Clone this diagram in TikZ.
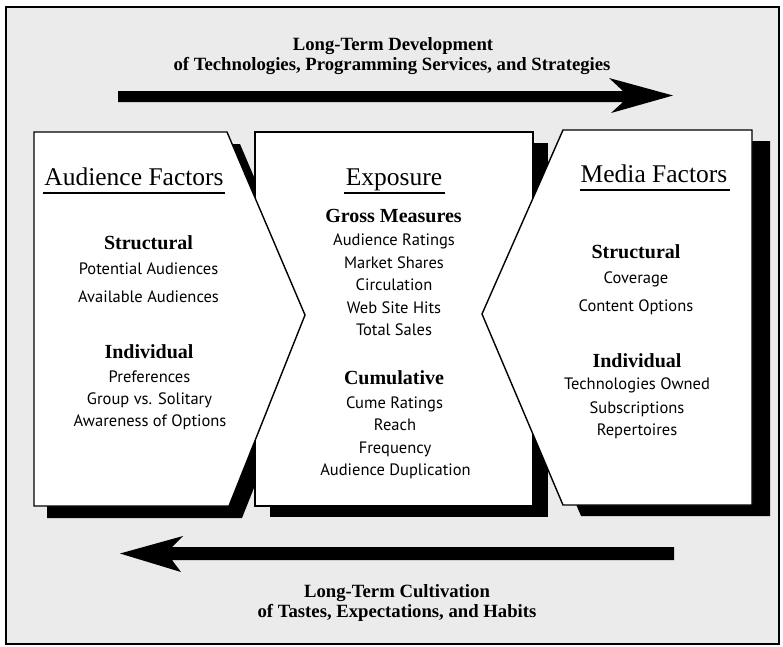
\documentclass[tikz,border=0pt]{standalone}
\usepackage{fontspec}
\setmainfont{Liberation Serif}
\newfontfamily\itemfont{PT Sans}
\begin{document}
\begin{tikzpicture}[x=1pt,y=-1pt,
  panel/.style={fill=white,draw=black,line width=1.4pt,line join=miter},
  shade/.style={fill=black},
  head/.style={font=\fontsize{25.5}{28}\selectfont,anchor=base,inner sep=0pt},
  sub/.style={font=\fontsize{20}{22}\selectfont\bfseries,anchor=base,inner sep=0pt},
  item/.style={font=\itemfont\fontsize{16.5}{18}\selectfont,anchor=base,inner sep=0pt},
  banner/.style={font=\fontsize{18.7}{21}\selectfont\bfseries,anchor=base,inner sep=0pt},
  rule/.style={line width=1.3pt}]

\useasboundingbox (0,0) rectangle (783,646);
\fill[white] (0,0) rectangle (783,646);
\draw[fill=black!8,line width=1.5pt] (6,7) rectangle (779,644);

% drop shadows
\fill[shade,shift={(13,12)}] (34,132) -- (227,132) -- (305,315) -- (229,506) -- (34,506) -- cycle;
\fill[shade,shift={(15,11)}] (255,132) rectangle (533,506);
\fill[shade,shift={(18,11)}] (563,130) -- (752,130) -- (752,505) -- (563,505) -- (482,314) -- cycle;

% panels
\draw[panel] (255,132) rectangle (533,506);
\draw[panel] (34,132) -- (227,132) -- (305,315) -- (229,506) -- (34,506) -- cycle;
\draw[panel] (563,130) -- (752,130) -- (752,505) -- (563,505) -- (482,314) -- cycle;

% long-term arrows
\fill (118,91) -- (623,91) -- (609,78) -- (673,95.5) -- (611,113) -- (623,102) -- (118,102) -- cycle;
\fill (674,547) -- (172,547) -- (183,536) -- (120,553.5) -- (181,572) -- (172,560) -- (674,560) -- cycle;

% banners
\node[banner] (dev1) at (393,50) {Long-Term Development};
\node[banner] (dev2) at (392,70) {of Technologies, Programming Services, and Strategies};
\node[banner] (cul1) at (397,597) {Long-Term Cultivation};
\node[banner] (cul2) at (397,617) {of Tastes, Expectations, and Habits};

% audience factors
\node[head] (aud) at (134,185) {Audience Factors};
\draw[rule] (43,193) -- (225,193);
\node[sub]  (aS)  at (148.5,249.5) {Structural};
\node[item] (a1)  at (148.5,274) {Potential Audiences};
\node[item] (a2)  at (148.5,302) {Available Audiences};
\node[sub]  (aI)  at (149,358.5) {Individual};
\node[item] (a3)  at (149.5,382) {Preferences};
\node[item] (a4)  at (149.5,404) {Group vs. Solitary};
\node[item] (a5)  at (150,426) {Awareness of Options};

% exposure
\node[head] (exp) at (394,185) {Exposure};
\draw[rule] (344,193) -- (445,193);
\node[sub]  (eG)  at (393.5,222) {Gross Measures};
\node[item] (e1)  at (394,245) {Audience Ratings};
\node[item] (e2)  at (394,268) {Market Shares};
\node[item] (e3)  at (394,290) {Circulation};
\node[item] (e4)  at (394,313) {Web Site Hits};
\node[item] (e5)  at (394,335) {Total Sales};
\node[sub]  (eC)  at (394,384.5) {Cumulative};
\node[item] (e6)  at (394.5,408) {Cume Ratings};
\node[item] (e7)  at (395,430) {Reach};
\node[item] (e8)  at (395,453) {Frequency};
\node[item] (e9)  at (395.5,475) {Audience Duplication};

% media factors
\node[head] (med) at (654,182) {Media Factors};
\draw[rule] (580,190) -- (730,190);
\node[sub]  (mS)  at (636,258.5) {Structural};
\node[item] (m1)  at (636,283) {Coverage};
\node[item] (m2)  at (636,311) {Content Options};
\node[sub]  (mI)  at (637,367.5) {Individual};
\node[item] (m3)  at (637,389) {Technologies Owned};
\node[item] (m4)  at (637,413) {Subscriptions};
\node[item] (m5)  at (637,435) {Repertoires};
\end{tikzpicture}
\end{document}
